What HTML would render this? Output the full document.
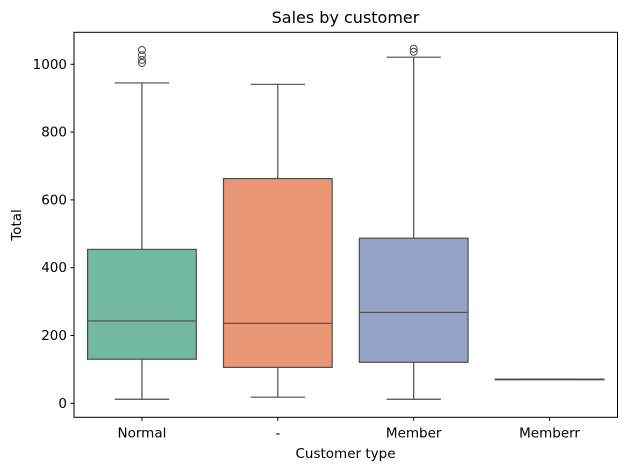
<!DOCTYPE html>
<html><head><meta charset="utf-8"><style>
body{margin:0;background:#fff;}
svg text{font-family:"DejaVu Sans","Liberation Sans",sans-serif;fill:#000;}
</style></head><body>
<svg id="chart" width="626" height="470" xmlns="http://www.w3.org/2000/svg">
<rect x="0" y="0" width="626" height="470" fill="#fff"/>
<text x="345.5" y="23" font-size="16" text-anchor="middle">Sales by customer</text>
<g id="plot"></g>
<rect x="74" y="32.3" width="543.5" height="385" fill="none" stroke="#000" stroke-width="1"/>
<text x="345.5" y="458" font-size="13.5" text-anchor="middle">Customer type</text>
<text transform="translate(21,225) rotate(-90)" font-size="13.5" text-anchor="middle">Total</text>
</svg>
<script>
const categories = ["Normal", "-", "Member", "Memberr"];
const q1 = [130, 106, 121, 71];
const median = [243, 236, 268, 71];
const q3 = [454, 663, 487, 71];
const whiskerLow = [12, 18, 12, 71];
const whiskerHigh = [945, 941, 1021, 71];
const outliers = [[1042, 1027, 1013, 1004], [], [1046, 1037], []];
const yTicks = [0, 200, 400, 600, 800, 1000];
const colors = ["#73b8a0", "#e99675", "#95a4c6", "#a8d45a"];

const NS = "http://www.w3.org/2000/svg";
const plot = document.getElementById("plot");
const L = 74, R = 617.5, B = 417.3;
const y = v => 403.3 - v * 0.339;
const step = (R - L) / categories.length;
const x = i => L + step * (i + 0.5);
const bw = step * 0.8;
function mk(tag, attrs) {
  const e = document.createElementNS(NS, tag);
  for (const k in attrs) e.setAttribute(k, attrs[k]);
  plot.appendChild(e);
  return e;
}
const lc = "#4d4d4d";
yTicks.forEach(t => {
  const tk = mk("line", {x1: L - 3.5, x2: L, y1: y(t), y2: y(t), stroke: "#000"});
  
  
  const lb = mk("text", {x: L - 7, y: y(t) + 4.5, "font-size": 13.5, "text-anchor": "end"});
  lb.textContent = t;
  
  
});
categories.forEach((c, i) => {
  const cx = x(i);
  const tk = mk("line", {x1: cx, x2: cx, y1: B, y2: B + 3.5, stroke: "#000"});
  
  
  const lb = mk("text", {x: cx, y: B + 20, "font-size": 13.5, "text-anchor": "middle"});
  lb.textContent = c;
  
  
  const w1 = mk("line", {x1: cx, x2: cx, y1: y(q3[i]), y2: y(whiskerHigh[i]), stroke: lc, "stroke-width": 1.2});
  
  
  const w2 = mk("line", {x1: cx, x2: cx, y1: y(q1[i]), y2: y(whiskerLow[i]), stroke: lc, "stroke-width": 1.2});
  
  
  [whiskerHigh[i], whiskerLow[i]].forEach(v => {
    const cap = mk("line", {x1: cx - bw / 4, x2: cx + bw / 4, y1: y(v), y2: y(v), stroke: lc, "stroke-width": 1.2});
    
    
  });
  const box = mk("rect", {x: cx - bw / 2, y: y(q3[i]), width: bw, height: Math.max(0.5, y(q1[i]) - y(q3[i])), fill: colors[i], stroke: lc, "stroke-width": 1.2});
  
  
  const md = mk("line", {x1: cx - bw / 2, x2: cx + bw / 2, y1: y(median[i]), y2: y(median[i]), stroke: lc, "stroke-width": 1.2});
  
  
  outliers[i].forEach(v => {
    const o = mk("circle", {cx: cx, cy: y(v), r: 3.5, fill: "none", stroke: lc, "stroke-width": 1});
    
    
  });
});
</script>
</body></html>
